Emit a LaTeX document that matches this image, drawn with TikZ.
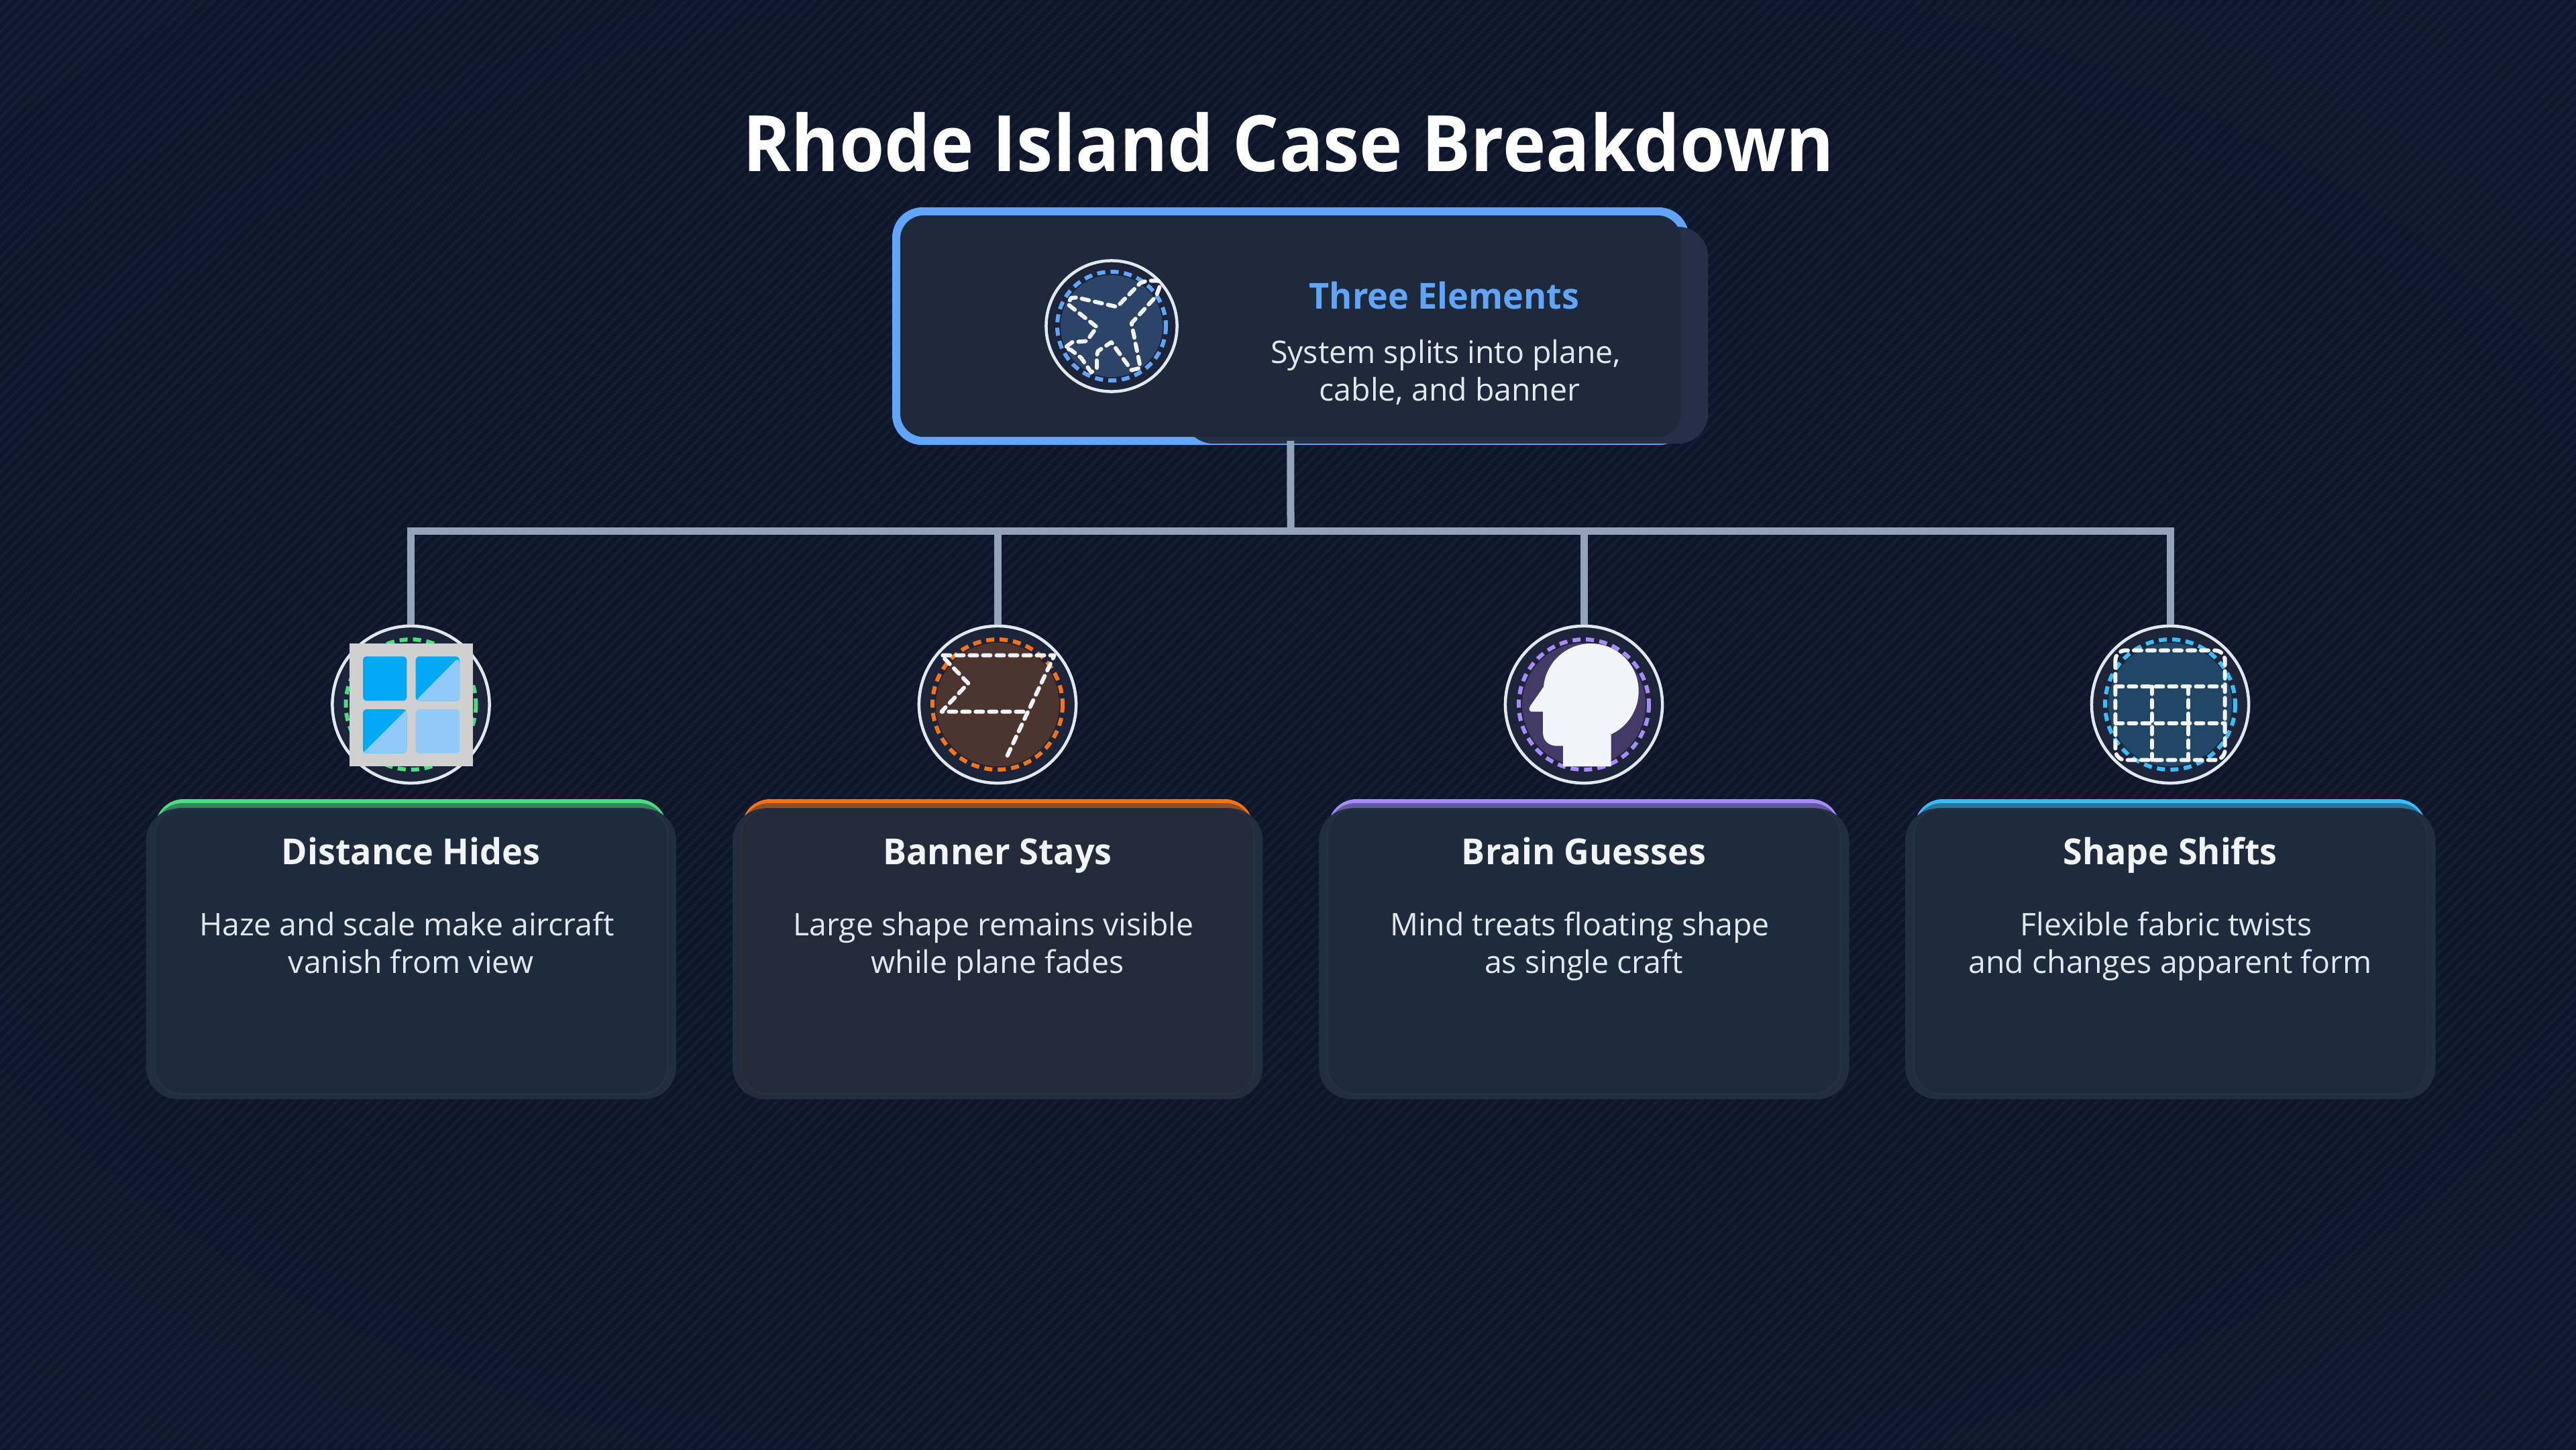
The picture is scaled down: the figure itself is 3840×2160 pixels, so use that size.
\documentclass[tikz,border=0pt]{standalone}
\usepackage{fontspec}
\usepackage{xcolor}
\usetikzlibrary{positioning}
\setmainfont{Open Sans}
\newfontfamily\titlefont[FakeStretch=0.938]{Open Sans}
\newfontfamily\headfont[FakeStretch=0.975]{Open Sans}
\definecolor{bgdeep}{HTML}{0D162B}
\definecolor{bgmid}{HTML}{121B33}
\definecolor{bgedge}{HTML}{1C253B}
\definecolor{linkgray}{HTML}{94A3B8}
\definecolor{ringwhite}{HTML}{E2E8F0}
\definecolor{glyphwhite}{HTML}{F1F5F9}
\definecolor{discdark}{HTML}{1B2438}
\definecolor{mainblue}{HTML}{60A5FA}
\definecolor{mainpanel}{HTML}{1E293B}
\definecolor{mainshade}{HTML}{252F48}
\definecolor{maindisc}{HTML}{2D4368}
\definecolor{cardedge}{HTML}{212D41}
\definecolor{cardfill}{HTML}{1E2B3C}
\definecolor{cardwarm}{HTML}{232B3A}
\definecolor{hazegreen}{HTML}{4ADE80}
\definecolor{bannerorange}{HTML}{F97316}
\definecolor{bannerdisc}{HTML}{4D352F}
\definecolor{brainpurple}{HTML}{A78BFA}
\definecolor{braindisc}{HTML}{433A68}
\definecolor{shapeblue}{HTML}{38BDF8}
\definecolor{shapedisc}{HTML}{224766}
\definecolor{framegray}{HTML}{D0D0D0}
\definecolor{panedeep}{HTML}{03A9F4}
\definecolor{panelight}{HTML}{90CAF9}
\pgfdeclareradialshading{bgglow}{\pgfpoint{0bp}{0bp}}{color(0bp)=(bgdeep); color(25bp)=(bgdeep); color(50bp)=(bgmid); color(71bp)=(bgedge)}
\tikzset{
    box/.style={rectangle, inner sep=0pt, outer sep=0pt, anchor=north west},
    link/.style={draw=linkgray, line width=0.11cm},
    ring/.style={circle, inner sep=0pt, outer sep=0pt, minimum size=2.34cm, fill=discdark, draw=ringwhite, line width=0.045cm},
    dashring/.style={draw=#1, line width=0.06cm, dash pattern=on 0.12cm off 0.08cm},
    glyph/.style={draw=glyphwhite, line width=0.06cm, line cap=round, line join=round, dash pattern=on 0.11cm off 0.09cm},
    cardhead/.style={font=\headfont\bfseries\fontsize{15.2}{18}\selectfont, text=glyphwhite, anchor=base, inner sep=0pt},
    cardbody/.style={font=\fontsize{13.2}{15.9}\selectfont, text=ringwhite, align=center, anchor=base, inner sep=0pt}
}
\newcommand{\tailgap}{\hspace*{0.12cm}}
\begin{document}
\begin{tikzpicture}[x=0.01cm, y=-0.01cm]
    \useasboundingbox (0,0) rectangle (3840,2160);
    \shade[shading=bgglow] (0,0) rectangle (3840,2160);
    \begin{scope}
        \clip (0,0) rectangle (3840,2160);
        \foreach \s in {-2160,-2144,...,3840}
            \draw[white, opacity=0.03, line width=0.035cm] (\s,2160) -- ++(2160,-2160);
    \end{scope}

    \node[font=\titlefont\bfseries\fontsize{33}{40}\selectfont, text=white, anchor=base, inner sep=0pt] (title) at (1921,255) {Rhode Island Case Breakdown};

    % top box
    \node[box, fill=mainblue, rounded corners=0.45cm, minimum width=11.87cm, minimum height=3.54cm] (mainbox) at (1330,309) {};
    \node[box, fill=mainshade, rounded corners=0.45cm, minimum width=7.82cm, minimum height=3.23cm] (mainback) at (1764,338) {};
    \node[box, fill=mainpanel, rounded corners=0.35cm, minimum width=11.63cm, minimum height=3.30cm] (mainpanel) at (1342,321) {};
    \node[font=\headfont\bfseries\fontsize{15.2}{18}\selectfont, text=mainblue, anchor=base, inner sep=0pt] (mainhead) at (2153,460) {Three Elements};
    \node[cardbody] (maintext) at (2161,597) {System splits into plane,\tailgap\\cable, and banner};

    % connectors
    \coordinate (busmid) at (1924,791);
    \node[ring, minimum size=1.95cm] (iconmain) at (1657,486) {};
    \node[ring] (iconhaze) at (612.5,1050) {};
    \node[ring] (iconbanner) at (1487,1050) {};
    \node[ring] (iconbrain) at (2361,1050) {};
    \node[ring] (iconshape) at (3235,1050) {};
    \draw[link, shorten <=-0.06cm] (mainbox.south) -- (busmid);
    \foreach \n in {iconhaze,iconbanner,iconbrain,iconshape}
        \draw[link, shorten >=0.02cm] (busmid) -| (\n.north);

    % cards
    \foreach \n/\cx/\topc/\fillc in {cardhaze/612.5/hazegreen/cardfill, cardbanner/1487/bannerorange/cardwarm, cardbrain/2361/brainpurple/cardfill, cardshape/3235/shapeblue/cardfill} {
        \fill[\topc, rounded corners=0.42cm] (\cx-381,1191) rectangle (\cx+381,1280);
        \fill[\topc!50!cardfill, rounded corners=0.4cm] (\cx-381,1197) rectangle (\cx+381,1280);
        \node[box, fill=cardedge, rounded corners=0.48cm, minimum width=7.90cm, minimum height=4.33cm] (\n) at (\cx-395,1205) {};
        \node[box, fill=\fillc, draw=\topc!6!\fillc, line width=0.02cm, rounded corners=0.40cm, minimum width=7.64cm, minimum height=4.25cm] (\n-in) at (\cx-382,1205) {};
    }
    \node[cardhead] (headhaze) at (612.5,1288) {Distance Hides};
    \node[cardhead] (headbanner) at (1487,1288) {Banner Stays};
    \node[cardhead] (headbrain) at (2361,1288) {Brain Guesses};
    \node[cardhead] (headshape) at (3235,1288) {Shape Shifts};
    \node[cardbody] (bodyhaze) at (612.5,1450) {Haze and scale make aircraft\tailgap\\vanish from view};
    \node[cardbody] (bodybanner) at (1487,1450) {Large shape remains visible\tailgap\\while plane fades};
    \node[cardbody] (bodybrain) at (2361,1450) {Mind treats floating shape\tailgap\\as single craft};
    \node[cardbody] (bodyshape) at (3235,1450) {Flexible fabric twists\tailgap\\and changes apparent form};

    % plane
    \fill[maindisc] (iconmain) circle (76);
    \draw[dashring=mainblue] (iconmain) circle (81);
    \begin{scope}[shift={(1530,370)}, x=0.01cm/3, y=-0.01cm/3]
        \draw[glyph] (590,145) -- (540,145) -- (510,155) -- (405,262) -- (225,220) -- (200,222) -- (185,250) -- (315,352) -- (270,415) -- (205,420) -- (172,445) -- (200,455) -- (245,490) -- (290,555) -- (315,535) -- (315,480) -- (320,460) -- (380,420) -- (470,545) -- (510,535) -- (475,360) -- (470,335) -- (580,215) -- (595,175) -- cycle;
    \end{scope}

    % window
    \draw[dashring=hazegreen] (iconhaze) circle (97);
    \begin{scope}[shift={(460,910)}, x=0.01cm/3, y=-0.01cm/3]
        \fill[framegray] (184,148) rectangle (735,697);
        \fill[panedeep, rounded corners=0.05cm] (243,205) rectangle (439,403);
        \fill[panedeep, rounded corners=0.05cm] (479,205) rectangle (675,403);
        \fill[panedeep, rounded corners=0.05cm] (243,441) rectangle (439,638);
        \fill[panelight, rounded corners=0.05cm] (479,441) rectangle (675,638);
        \fill[panelight, rounded corners=0.05cm] (479,403) -- (668,212) -- (675,230) -- (675,403) -- cycle;
        \fill[panelight, rounded corners=0.05cm] (243,638) -- (250,630) -- (439,441) -- (439,638) -- cycle;
    \end{scope}

    % flag
    \fill[bannerdisc] (iconbanner) circle (92);
    \draw[dashring=bannerorange] (iconbanner) circle (97);
    \begin{scope}[shift={(1330,910)}, x=0.01cm/3, y=-0.01cm/3]
        \draw[glyph] (515,648) -- (725,200) -- (220,200) -- (340,325) -- (220,452) -- (600,452);
    \end{scope}

    % head
    \fill[braindisc] (iconbrain) circle (92);
    \draw[dashring=brainpurple] (iconbrain) circle (97);
    \begin{scope}[shift={(2200,910)}, x=0.01cm/3, y=-0.01cm/3]
        \fill[glyphwhite] (390,697) -- (605,697) -- (605,553) arc[start angle=65, end angle=-175, radius=213] -- (300,345) -- (242,428) .. controls (235,442) and (240,452) .. (252,452) -- (300,452) -- (300,545) .. controls (300,585) and (330,605) .. (362,605) -- (390,605) -- cycle;
    \end{scope}

    % grid
    \fill[shapedisc] (iconshape) circle (92);
    \draw[dashring=shapeblue] (iconshape) circle (97);
    \begin{scope}[shift={(3070,910)}, x=0.01cm/3, y=-0.01cm/3]
        \draw[glyph, rounded corners=0.15cm] (250,178) rectangle (740,668);
        \draw[glyph] (250,340) -- (740,340);
        \draw[glyph] (250,503) -- (740,503);
        \draw[glyph] (413,340) -- (413,668);
        \draw[glyph] (577,340) -- (577,668);
    \end{scope}
\end{tikzpicture}
\end{document}
